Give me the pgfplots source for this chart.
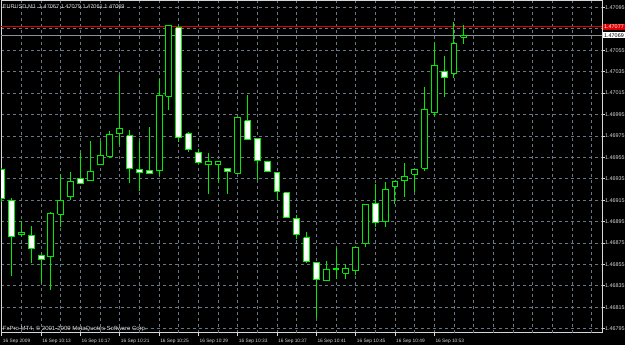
\documentclass[border=0pt]{standalone}
\usepackage{pgfplots}
\pgfplotsset{compat=1.18}
\usepackage{pgfplotstable}
\usepackage{fontspec}
\setmainfont{Liberation Sans}
\definecolor{mtgreen}{RGB}{0,235,0}
\definecolor{fg}{RGB}{215,215,215}
\definecolor{gridc}{RGB}{105,118,132}
\definecolor{bidc}{RGB}{140,145,155}
\definecolor{askred}{RGB}{225,0,0}
% digits after the decimal point of a price such as 1.46944
\def\pxint#1.#2.#3\relax{#2}
% same, from pgf's float format 1Y1.46944e0]
\def\pxflt#1Y#2.#3e#4]{\pxfive#300000\relax}
\def\pxfive#1#2#3#4#5#6\relax{#1#2#3#4#5}
\pgfplotsset{
  wick/.style={draw=mtgreen, line width=1pt, mark=none},
  body/.style={draw=mtgreen, line width=1pt, mark=none, line join=miter},
}
\pgfplotstableread{
i O H L C
0 1.46944 1.46945 1.46913 1.46917
1 1.46915 1.46917 1.46844 1.46881
2 1.46883 1.46896 1.46882 1.46885
3 1.46882 1.46891 1.46856 1.46870
4 1.46863 1.46864 1.46838 1.46860
5 1.46862 1.46904 1.46831 1.46903
6 1.46902 1.46939 1.46890 1.46915
7 1.46918 1.46941 1.46915 1.46932
8 1.46935 1.46959 1.46931 1.46931
9 1.46933 1.46970 1.46933 1.46942
10 1.46948 1.46970 1.46948 1.46957
11 1.46956 1.46980 1.46954 1.46976
12 1.46977 1.47032 1.46967 1.46982
13 1.46975 1.46981 1.46931 1.46945
14 1.46944 1.46970 1.46924 1.46941
15 1.46943 1.46983 1.46940 1.46940
16 1.46943 1.47028 1.46938 1.47013
17 1.47012 1.47078 1.46999 1.47078
18 1.47076 1.47078 1.46969 1.46974
19 1.46977 1.46979 1.46960 1.46962
20 1.46960 1.46963 1.46949 1.46950
21 1.46948 1.46959 1.46921 1.46951
22 1.46948 1.46951 1.46931 1.46951
23 1.46945 1.46945 1.46921 1.46942
24 1.46940 1.46992 1.46939 1.46992
25 1.46989 1.47013 1.46972 1.46972
26 1.46973 1.46973 1.46934 1.46952
27 1.46951 1.46952 1.46942 1.46942
28 1.46941 1.46941 1.46915 1.46923
29 1.46922 1.46922 1.46899 1.46899
30 1.46898 1.46901 1.46879 1.46883
31 1.46880 1.46885 1.46856 1.46858
32 1.46857 1.46857 1.46805 1.46841
33 1.46840 1.46858 1.46840 1.46850
34 1.46850 1.46870 1.46841 1.46851
35 1.46847 1.46855 1.46841 1.46851
36 1.46849 1.46871 1.46845 1.46871
37 1.46875 1.46911 1.46871 1.46911
38 1.46912 1.46930 1.46890 1.46894
39 1.46895 1.46932 1.46890 1.46925
40 1.46928 1.46932 1.46911 1.46932
41 1.46933 1.46950 1.46918 1.46937
42 1.46939 1.46944 1.46923 1.46944
43 1.46945 1.47021 1.46942 1.47000
44 1.46997 1.47062 1.46994 1.47041
45 1.47035 1.47050 1.47011 1.47030
46 1.47033 1.47081 1.47029 1.47061
47 1.47067 1.47079 1.47061 1.47069
}\candles

\begin{document}
\begin{tikzpicture}[x=1pt,y=1pt]
\useasboundingbox (0,0) rectangle (625,345);
\fill[black] (0,0) rectangle (625,345);
\begin{axis}[
  at={(1pt,12pt)}, anchor=south west,
  scale only axis, width=601pt, height=332pt,
  axis background/.style={fill=black},
  xmin=-0.08, xmax=61.06,
  y coord trafo/.code={\pgfmathfloatparsenumber{#1}\edef\pgfmathresult{\the\numexpr\expandafter\pxflt\pgfmathresult-46700\relax}},
  ymin=1.46791, ymax=1.47101,
  axis line style={draw=fg, line width=1pt},
  tick style={draw=fg, line width=0.8pt},
  tick align=outside, major tick length=3pt,
  xtick pos=bottom, ytick pos=right, yticklabel pos=right,
  xtick={0,4,...,44},
  xticklabels={16 Sep 2009,16 Sep 10:13,16 Sep 10:17,16 Sep 10:21,16 Sep 10:25,16 Sep 10:29,16 Sep 10:33,16 Sep 10:37,16 Sep 10:41,16 Sep 10:45,16 Sep 10:49,16 Sep 10:53},
  extra x ticks={2,6,10,14,18,22,26,30,34,38,42,46,48,50,52,54,56,58,60},
  extra x tick labels={},
  extra x tick style={grid=major, major tick length=0pt},
  ytick={1.46795,1.46815,1.46835,1.46855,1.46875,1.46895,1.46915,1.46935,1.46955,1.46975,1.46995,1.47015,1.47035,1.47055,1.47075,1.47095},
  yticklabels={1.46795,1.46815,1.46835,1.46855,1.46875,1.46895,1.46915,1.46935,1.46955,1.46975,1.46995,1.47015,1.47035,1.47055,{},1.47095},
  xticklabel style={font=\fontsize{4.8}{5}\selectfont, text=fg, anchor=west, inner sep=0pt, xshift=1pt, yshift=-5pt},
  yticklabel style={font=\fontsize{5.4}{6}\selectfont, text=fg, anchor=west, inner sep=0pt, xshift=0pt},
  grid=major,
  grid style={draw=gridc, dash pattern=on 3pt off 3pt, line width=0.8pt},
]
\addplot[draw=bidc, line width=1pt, mark=none] coordinates {(-0.08,1.47069) (61.06,1.47069)};
\addplot[draw=askred, line width=1pt, mark=none] coordinates {(-0.08,1.47077) (61.06,1.47077)};
\pgfplotsinvokeforeach{0,...,47}{%
  \pgfplotstablegetelem{#1}{O}\of\candles \let\cO\pgfplotsretval
  \pgfplotstablegetelem{#1}{H}\of\candles \let\cH\pgfplotsretval
  \pgfplotstablegetelem{#1}{L}\of\candles \let\cL\pgfplotsretval
  \pgfplotstablegetelem{#1}{C}\of\candles \let\cC\pgfplotsretval
  \pgfmathsetmacro\xl{#1-0.3}\pgfmathsetmacro\xr{#1+0.3}%
  \edef\iO{\expandafter\pxint\cO..\relax}%
  \edef\iC{\expandafter\pxint\cC..\relax}%
  \ifnum\iC>\iO \def\bodyfill{black}\else\def\bodyfill{white}\fi
  \edef\doplot{\noexpand\addplot[wick] coordinates {(#1,\cL) (#1,\cH)};%
    \noexpand\addplot[body, fill=\bodyfill] coordinates {(\xl,\cO) (\xr,\cO) (\xr,\cC) (\xl,\cC) (\xl,\cO)};}%
  \doplot
}
\node[anchor=west, inner sep=0pt, text=fg, font=\fontsize{5.6}{6}\selectfont, xshift=1.7pt, yshift=-5.8pt] at (axis description cs:0,1) {EURUSD,M1\ \ 1.47067 1.47079 1.47061 1.47069};
\node[anchor=west, inner sep=0pt, text=fg, font=\fontsize{6}{7}\selectfont, xshift=1.7pt, yshift=4pt] at (axis description cs:0,0) {FxPro MT4, © 2001-2009 MetaQuotes Software Corp.};
\coordinate (askpt) at (axis cs:61.06,1.47077);
\coordinate (bidpt) at (axis cs:61.06,1.47069);
\end{axis}
\node[anchor=west, fill=askred, text=white, inner sep=0.5pt, minimum width=22pt, minimum height=6pt, font=\fontsize{5.4}{6}\selectfont, xshift=0.8pt] at (askpt) {1.47077};
\node[anchor=west, fill=white, text=black, inner sep=0.5pt, minimum width=22pt, minimum height=6pt, font=\fontsize{5.4}{6}\selectfont, xshift=0.8pt] at (bidpt) {1.47069};
\end{tikzpicture}
\end{document}
